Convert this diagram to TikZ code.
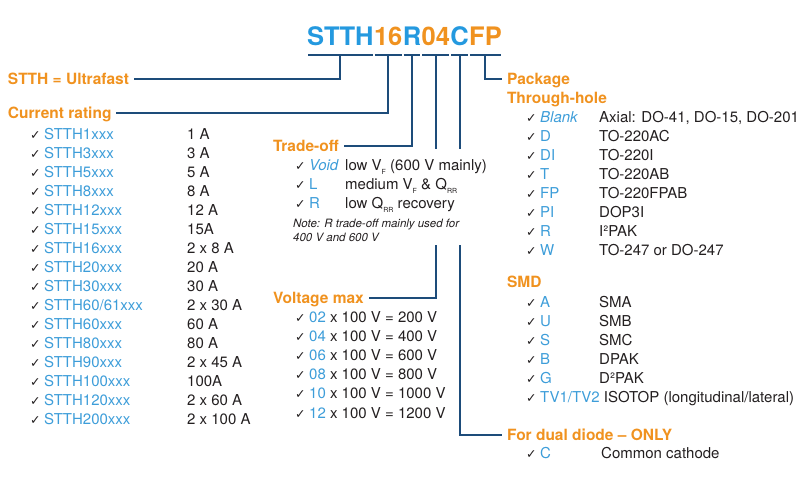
\documentclass[tikz,border=0pt]{standalone}
\usepackage{fontspec}
\setmainfont{TeX Gyre Heros}
\newfontfamily\checkfont{DejaVu Sans}
\usetikzlibrary{calc, positioning}

\definecolor{navy}{HTML}{1D4C7A}
\definecolor{storange}{HTML}{F0921F}
\definecolor{stblue}{HTML}{3D9DD9}
\definecolor{titleblue}{HTML}{2499DF}
\definecolor{ink}{HTML}{231F20}

\newcommand{\ck}{\makebox[14pt][l]{{\checkfont\fontsize{12.5}{12.5}\selectfont ✓}}}
\newcommand{\lowsub}[1]{\raisebox{-0.3em}{\fontsize{7}{7}\selectfont #1}}

\tikzset{
  every node/.style={inner sep=0pt, anchor=base west, text=ink, font=\fontsize{15}{18}\selectfont},
  head/.style={font=\bfseries\fontsize{15.5}{18}\selectfont, text=storange,
    text height=11pt, text depth=0pt, outer xsep=5pt},
  seg/.style={font=\bfseries\fontsize{25.5}{30}\selectfont},
  note/.style={font=\itshape\fontsize{11.5}{14}\selectfont},
  conn/.style={navy, line width=2pt},
}

\begin{document}
\begin{tikzpicture}[x=1pt, y=-1pt]
\useasboundingbox (0,0) rectangle (806,490);

% part number
\node[seg, text=titleblue] (cSTTH) at (307,45) {STTH};
\node[seg, text=storange] (c16) at (cSTTH.base east) {16};
\node[seg, text=titleblue] (cR) at (c16.base east) {R};
\node[seg, text=storange] (c04) at (cR.base east) {04};
\node[seg, text=titleblue] (cC) at (c04.base east) {C};
\node[seg, text=storange] (cFP) at (cC.base east) {FP};

\foreach \s in {STTH,16,R,04,C,FP}
  \draw[conn] ([shift={(1pt,-10pt)}]c\s.base west) -- ([shift={(-1pt,-10pt)}]c\s.base east)
    coordinate[midway] (b\s);

% headings
\node[head] (ultra) at (3,84) {STTH = Ultrafast};
\node[head] (current) at (3,118) {Current rating};
\node[head] (trade) at (268,151) {Trade-off};
\node[head] (volt) at (268,303) {Voltage max};
\node[head] (pack) at (502,84) {Package};
\node[head] (thru) at (502,103) {Through-hole};
\node[head] (smd) at (502,287) {SMD};
\node[head] (dual) at (502,440) {For dual diode -- ONLY};

% connectors
\draw[conn] (bSTTH) |- (ultra.east);
\draw[conn] (b16) |- (current.east);
\draw[conn] (bR) |- (trade.east);
\draw[conn] (b04) |- (volt.east);
\draw[conn] (bC) |- (dual.west);
\draw[conn] (bFP) |- (pack.west);

% the trade-off block hides the lines behind it
\fill[white] (400,149) rectangle (486,245);

% current rating
\foreach \code/\amp [count=\i from 0] in {STTH1xxx/1 A, STTH3xxx/3 A, STTH5xxx/5 A,
    STTH8xxx/8 A, STTH12xxx/12 A, STTH15xxx/15A, STTH16xxx/2 x 8 A, STTH20xxx/20 A,
    STTH30xxx/30 A, {STTH60/61xxx}/2 x 30 A, STTH60xxx/60 A, STTH80xxx/80 A,
    STTH90xxx/2 x 45 A, STTH100xxx/100A, STTH120xxx/2 x 60 A, STTH200xxx/2 x 100 A} {
  \node (cur\i) at (30,{139+19*\i}) {\ck\textcolor{stblue}{\code}};
  \node (amp\i) at (187,{139+19*\i}) {\amp};
}

% trade-off
\foreach \code/\desc [count=\i from 0] in {{\textit{Void}}/{low V\lowsub{F} (600 V mainly)},
    L/{medium V\lowsub{F} \& Q\lowsub{RR}}, R/{low Q\lowsub{RR} recovery}} {
  \node (tcode\i) at (295,{170+19*\i}) {\ck\textcolor{stblue}{\code}};
  \node (tdesc\i) at (345,{170+19*\i}) {\desc};
}
\node[note] (note1) at (293,227) {Note: R trade-off mainly used for};
\node[note] (note2) at (293,241) {400 V and 600 V};

% voltage max
\foreach \dig/\volts [count=\i from 0] in {02/200, 04/400, 06/600, 08/800, 10/1000, 12/1200}
  \node (vrow\i) at (295,{322+19.2*\i}) {\ck\textcolor{stblue}{\dig} x 100 V = \volts\ V};

% package, through-hole
\foreach \code/\desc [count=\i from 0] in {{\textit{Blank}}/{Axial: DO-41, DO-15, DO-201},
    D/TO-220AC, DI/TO-220I, T/TO-220AB, FP/TO-220FPAB, PI/DOP3I, R/I²PAK, W/TO-247 or DO-247} {
  \node (pcode\i) at (526,{122+19*\i}) {\ck\textcolor{stblue}{\code}};
  \node (pdesc\i) at (599,{122+19*\i}) {\desc};
}

% package, SMD
\foreach \code/\desc [count=\i from 0] in {A/SMA, U/SMB, S/SMC, B/DPAK, G/D²PAK} {
  \node (scode\i) at (526,{307+19*\i}) {\ck\textcolor{stblue}{\code}};
  \node (sdesc\i) at (599,{307+19*\i}) {\desc};
}
\node (isotop) at (526,402) {\ck\textcolor{stblue}{TV1/TV2} ISOTOP (longitudinal/lateral)};

% dual diode
\node (dcode) at (526,458) {\ck\textcolor{stblue}{C}};
\node (ddesc) at (601,458) {Common cathode};
\end{tikzpicture}
\end{document}
